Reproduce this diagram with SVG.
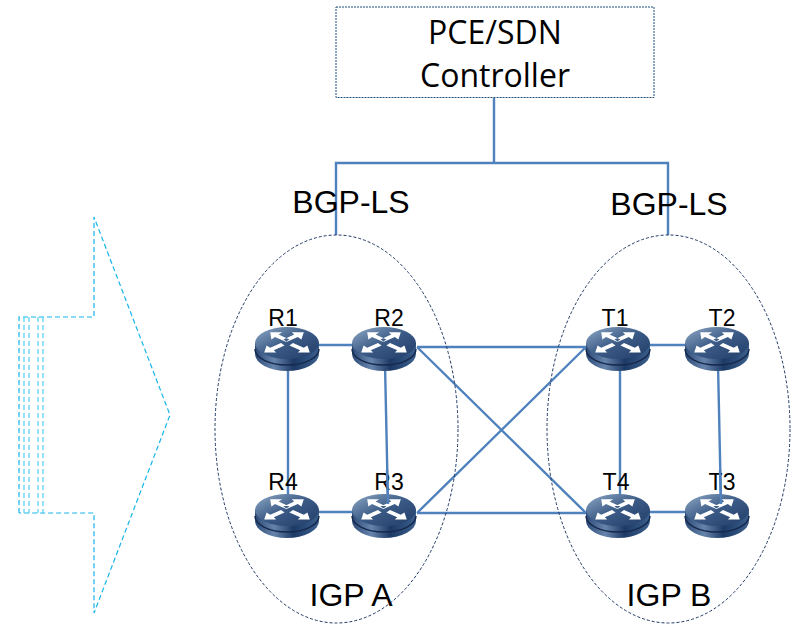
<svg xmlns="http://www.w3.org/2000/svg" width="796" height="629" viewBox="0 0 796 629">
<style>
.t{font-family:"Liberation Sans",Arial,sans-serif;fill:#000}
.c{font-family:"Open Sans","Noto Sans",sans-serif;font-size:32px;fill:#000;text-anchor:middle}
.big{font-size:32px;text-anchor:middle}
.lab{font-size:23px;text-anchor:middle}
.link{stroke:#4f81bd;stroke-width:2.4;fill:none}
.oval{stroke:#1f3864;stroke-width:1;stroke-dasharray:3 2;fill:none}
.arrow{stroke:#17b5ea;stroke-width:1.200;stroke-dasharray:5 3;fill:none}
.arrow2{stroke:#4fd0f5;stroke-width:1.200;stroke-dasharray:5 3;fill:none}
</style>
<defs>
<linearGradient id="side" x1="0" x2="1" y1="0" y2="0">
<stop offset="0" stop-color="#2c4a78"/><stop offset=".3" stop-color="#6684ab"/><stop offset=".6" stop-color="#1d3a66"/><stop offset="1" stop-color="#3b5f8c"/>
</linearGradient>
<linearGradient id="top" x1="0" x2="1" y1="0" y2="1">
<stop offset="0" stop-color="#8fa9c6"/><stop offset=".5" stop-color="#3a5a85"/><stop offset="1" stop-color="#223c68"/>
</linearGradient>
<g id="router">
<path d="M-32 0V11A32 17 0 0 0 32 11V0Z" fill="url(#side)"/>
<path d="M-32 6A32 16 0 0 0 32 6" fill="none" stroke="#16294d" stroke-width="1.500"/>
<ellipse cx="0" cy="0" rx="32" ry="16" fill="url(#top)"/>
<path transform="scale(1.200)" d="M-14 -9L-4 -9L-7 -7L2 -3L-1 -1L-10 -5L-13 -3ZM14 -9L4 -9L6 -7L-3 -3L0 -1L9 -5L12 -3ZM-19 8L-9 8L-11 6L-2 2L-5 0L-14 4L-17 2ZM19 8L9 8L11 6L2 2L5 0L14 4L17 2Z" fill="#fff"/>
</g>
</defs>
<g id="connectors">
<path class="link" d="M494 98V163M336 235V163H668V235"/>
<path class="link" d="M319 345H352M288 365V496M385 364L388 504M650 345H685M620 365V496M718 364L721 504M319 512H352M650 512H685"/>
<path class="link" d="M417 347H586M417 347L586 513M417 513H586M417 513L586 347"/>
</g>
<g id="controller">
<rect x="336" y="7" width="318" height="90.500" fill="none" stroke="#1f4e79" stroke-width="1" stroke-dasharray="2 1"/>
<text class="c" x="495" y="44">PCE/SDN</text>
<text class="c" x="495" y="87">Controller</text>
</g>
<g id="bgp-ls-a"><text class="t big" x="351" y="213">BGP-LS</text></g>
<g id="bgp-ls-b"><text class="t big" x="669" y="215">BGP-LS</text></g>
<g id="igp-a"><ellipse class="oval" cx="336.500" cy="429" rx="121.500" ry="194"/><text class="t big" x="351" y="606">IGP A</text></g>
<g id="igp-b"><ellipse class="oval" cx="668.500" cy="429" rx="121.500" ry="194"/><text class="t big" x="669" y="606">IGP B</text></g>
<g id="R1"><use href="#router" x="287" y="343"/><text class="t lab" x="283" y="326">R1</text></g>
<g id="R2"><use href="#router" x="384" y="343"/><text class="t lab" x="389" y="326">R2</text></g>
<g id="R4"><use href="#router" x="287" y="510"/><text class="t lab" x="283" y="490">R4</text></g>
<g id="R3"><use href="#router" x="384" y="510"/><text class="t lab" x="389" y="490">R3</text></g>
<g id="T1"><use href="#router" x="618" y="343"/><text class="t lab" x="615" y="326">T1</text></g>
<g id="T2"><use href="#router" x="717" y="343"/><text class="t lab" x="722" y="326">T2</text></g>
<g id="T4"><use href="#router" x="618" y="510"/><text class="t lab" x="616" y="490">T4</text></g>
<g id="T3"><use href="#router" x="717" y="510"/><text class="t lab" x="722" y="490">T3</text></g>
<g id="overlay">
<path class="link" d="M387 470L388 504M720 470L721 504"/>
</g>
<g id="arrow">
<path class="arrow" d="M19 513V317H94V217L170 415L94 613V513H19"/>
<path class="arrow2" d="M24 317V513M29 317V513M38 317V513M43 317V513"/>
</g>
</svg>
